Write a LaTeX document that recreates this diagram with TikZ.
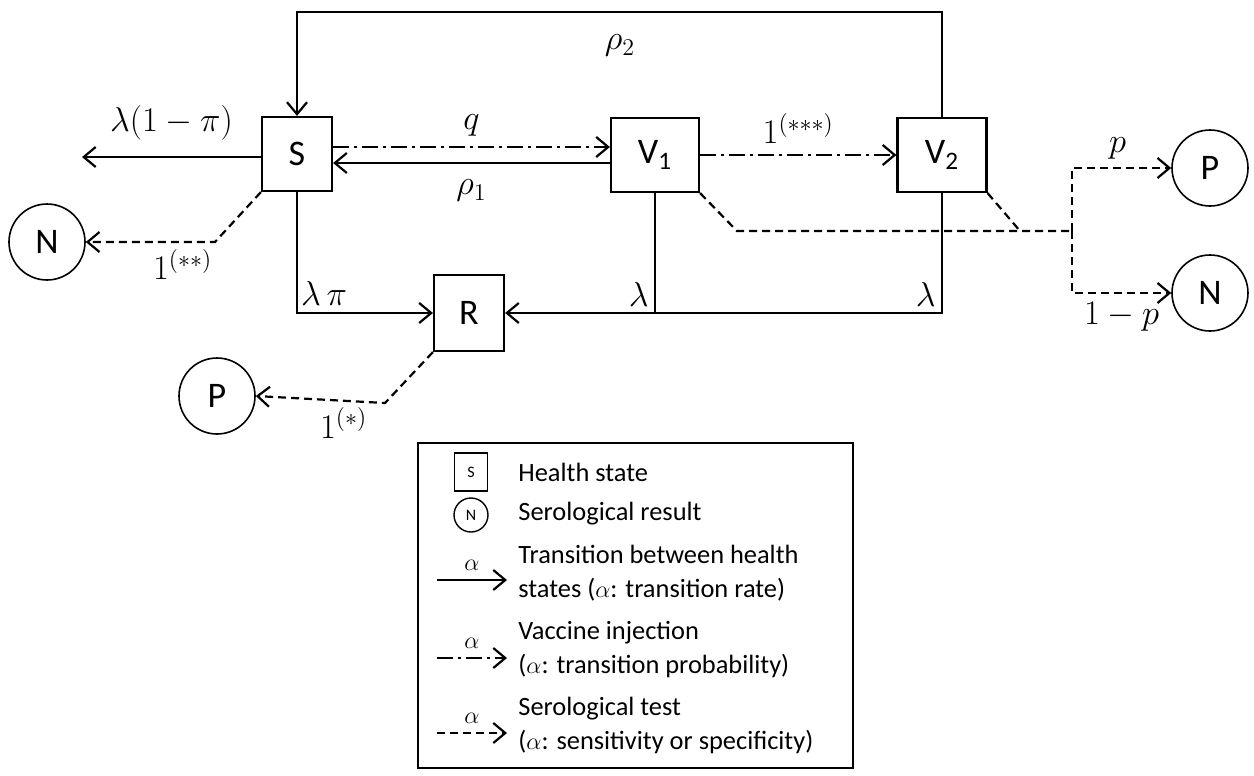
\documentclass[tikz,border=0pt]{standalone}
\usepackage[no-math]{fontspec}
\setmainfont{Carlito}
\usepackage{tikz}
\usetikzlibrary{arrows.meta, positioning}
\tikzset{
	statenode/.style={
			draw=black,
			line width=1.1pt,
			minimum width=35pt,
			minimum height=37pt,
			inner sep=0pt,
			font=\fontsize{18}{20}\selectfont
		},
	resultnode/.style={
			circle,
			draw=black,
			line width=0.8pt,
			minimum size=38pt,
			inner sep=0pt,
			font=\fontsize{18}{20}\selectfont
		},
	smallstate/.style={
			statenode,
			line width=0.8pt,
			minimum width=16.5pt,
			minimum height=19pt,
			font=\fontsize{8}{9}\selectfont
		},
	smallresult/.style={
			resultnode,
			line width=0.7pt,
			minimum size=17pt,
			font=\fontsize{8}{9}\selectfont
		},
	ratearrow/.style={
			line width=1.1pt,
			-{Straight Barb[length=6pt,width=10pt]}
		},
	vaccinearrow/.style={
			ratearrow,
			dash pattern=on 8pt off 2.5pt on 1.5pt off 2.5pt
		},
	testline/.style={
			line width=1.1pt,
			dash pattern=on 4pt off 2.5pt
		},
	testarrow/.style={
			testline,
			-{Straight Barb[length=6pt,width=10pt]}
		},
	lbl/.style={
			font=\fontsize{16.5}{19}\selectfont,
			inner sep=2pt
		},
	legtext/.style={
			anchor=west,
			align=left,
			inner sep=0pt,
			font=\fontsize{13.2}{17}\selectfont
		}
}

\begin{document}
\begin{tikzpicture}[x=0.5pt, y=-0.5pt]
\useasboundingbox (0,0) rectangle (1254,776);

\node[statenode] (S) at (297,154) {S};
\node[statenode, minimum width=44pt] (V1) at (655,155) {V\textsubscript{1}};
\node[statenode, minimum width=44.5pt] (V2) at (942,155) {V\textsubscript{2}};
\node[statenode, minimum height=38pt] (R) at (469,313) {R};

\node[resultnode] (Nl) at (47,242) {N};
\node[resultnode] (Pl) at (217,396) {P};
\node[resultnode] (Pr) at (1210,168) {P};
\node[resultnode] (Nr) at (1210,293) {N};

\coordinate (top) at (620,12);
\coordinate (out) at (82,157);
\coordinate (kS) at (215,242);
\coordinate (kR) at (385,403);
\coordinate (kV1) at (737,231);
\coordinate (kV2) at (1020,231);
\coordinate (split) at (1072,231);

\draw[ratearrow] (V2.north) |- (top) node[lbl, below=9pt] {$\rho_2$} -| (S.north);
\draw[ratearrow] (S.west |- out) -- (out) node[lbl, midway, above=6pt] {$\lambda(1-\pi)$};

\draw[vaccinearrow] ([yshift=3.5pt]S.east) -- ([yshift=3.5pt]S.east -| V1.west) node[lbl, midway, above=3pt] {$q$};
\draw[ratearrow] ([yshift=-4.5pt]S.east -| V1.west) -- ([yshift=-4.5pt]S.east) node[lbl, midway, below=6pt] {$\rho_1$};
\draw[vaccinearrow] (V1.east) -- (V2.west) node[lbl, midway, above=3pt] {$1^{(***)}$};

\draw[ratearrow] (S.south) |- (R.west) node[lbl, pos=0.6, above=1pt] {$\lambda\,\pi$};
\draw[ratearrow] (V1.south) |- (R.east) node[lbl, pos=0.5, above left=1pt] {$\lambda$};
\draw[line width=1.1pt] (V2.south) |- (V1.south |- R.east) node[lbl, pos=0.5, above left=1pt] {$\lambda$};

\draw[testarrow] (S.south west) -- (kS) -- (Nl.east) node[lbl, pos=0.25, below=1pt] {$1^{(**)}$};
\draw[testarrow] (R.south west) -- (kR) -- (Pl.east) node[lbl, pos=0.32, below=1pt] {$1^{(*)}$};
\draw[testline] (V1.south east) -- (kV1) -- (split);
\draw[testline] (V2.south east) -- (kV2);
\draw[testarrow] (split) |- (Pr.west) node[lbl, pos=0.73, above=2pt] {$p$};
\draw[testarrow] (split) |- (Nr.west) node[lbl, pos=0.75, below=2pt] {$1-p$};

\node[draw, line width=1pt, minimum width=217.5pt, minimum height=162.5pt] (legend) at (635.5,605.5) {};
\node[smallstate] (lS) at (471,472) {S};
\node[smallresult] (lN) at (471,515) {N};
\node[legtext] (t1) at (518,472) {Health state};
\node[legtext] (t2) at (518,514) {Serological result};
\node[legtext] (t3) at (518,573) {Transition between health\\states ($\alpha$: transition rate)};
\node[legtext] (t4) at (518,649) {Vaccine injection\\($\alpha$: transition probability)};
\node[legtext] (t5) at (518,725) {Serological test\\($\alpha$: sensitivity or specificity)};

\coordinate (a1) at (437,580);
\coordinate (b1) at (507,580);
\coordinate (a2) at (437,658);
\coordinate (b2) at (507,658);
\coordinate (a3) at (437,733);
\coordinate (b3) at (507,733);
\draw[ratearrow] (a1) -- (b1) node[lbl, midway, above=2pt, font=\fontsize{12}{14}\selectfont] {$\alpha$};
\draw[vaccinearrow] (a2) -- (b2) node[lbl, midway, above=2pt, font=\fontsize{12}{14}\selectfont] {$\alpha$};
\draw[testarrow] (a3) -- (b3) node[lbl, midway, above=2pt, font=\fontsize{12}{14}\selectfont] {$\alpha$};

\end{tikzpicture}
\end{document}
